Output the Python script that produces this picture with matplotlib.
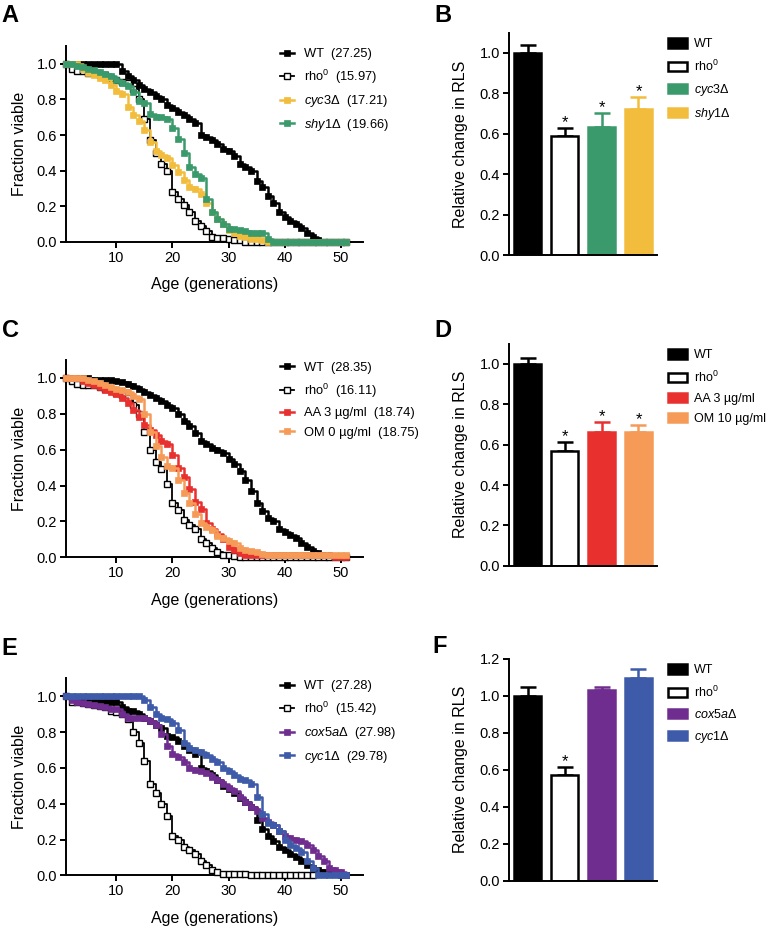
import matplotlib
matplotlib.use("Agg")
import matplotlib.pyplot as plt
import numpy as np
from matplotlib.lines import Line2D
from matplotlib.patches import Patch
from matplotlib.ticker import FormatStrFormatter

plt.rcParams['font.family'] = ['Liberation Sans', 'DejaVu Sans']
plt.rcParams['mathtext.fontset'] = 'custom'
plt.rcParams['mathtext.rm'] = 'Liberation Sans'
plt.rcParams['mathtext.it'] = 'Liberation Sans:italic'
plt.rcParams['axes.linewidth'] = 1.4

# ---- survival data: fraction viable at each age (generations 1, 2, 3, ...) ----
ages = np.arange(1, 52)

a_wt = [1.0]*10 + [0.96, 0.93, 0.91, 0.88, 0.86, 0.84, 0.82, 0.80, 0.77, 0.75, 0.73, 0.71,
                   0.69, 0.67, 0.60, 0.59, 0.57, 0.55, 0.52, 0.51, 0.48, 0.44, 0.42, 0.40,
                   0.34, 0.31, 0.26, 0.22, 0.17, 0.14, 0.12, 0.10, 0.08, 0.05, 0.03, 0.01] + [0.0]*5
a_rho = [1.0, 0.97, 0.96, 0.96, 0.95, 0.95, 0.94, 0.94, 0.92, 0.91, 0.90, 0.89, 0.86, 0.80,
         0.69, 0.57, 0.50, 0.44, 0.40, 0.28, 0.24, 0.21, 0.17, 0.12, 0.09, 0.06, 0.03, 0.02,
         0.02, 0.015, 0.01, 0.01] + [0.0]*19
a_cyc3 = [1.0, 1.0, 1.0, 0.97, 0.95, 0.94, 0.92, 0.91, 0.88, 0.85, 0.83, 0.76, 0.71, 0.68,
          0.63, 0.56, 0.51, 0.49, 0.47, 0.43, 0.39, 0.35, 0.31, 0.30, 0.27, 0.22, 0.17, 0.13,
          0.10, 0.067, 0.05, 0.035, 0.026, 0.015, 0.015, 0.01] + [0.0]*15
a_shy1 = [1.0, 1.0, 0.99, 0.98, 0.97, 0.965, 0.955, 0.945, 0.93, 0.91, 0.89, 0.875, 0.84,
          0.79, 0.78, 0.72, 0.70, 0.70, 0.69, 0.64, 0.58, 0.50, 0.42, 0.38, 0.36, 0.24, 0.17,
          0.13, 0.10, 0.075, 0.07, 0.067, 0.06, 0.052, 0.05, 0.05, 0.015] + [0.0]*14

c_wt = [1.0]*5 + [0.99, 0.99, 0.99, 0.99, 0.985, 0.975, 0.965, 0.955, 0.94, 0.92, 0.905, 0.89,
                  0.87, 0.85, 0.83, 0.80, 0.76, 0.73, 0.69, 0.65, 0.63, 0.61, 0.60, 0.58, 0.55,
                  0.52, 0.48, 0.43, 0.37, 0.30, 0.26, 0.22, 0.20, 0.16, 0.14, 0.125, 0.11, 0.08,
                  0.055, 0.037, 0.025, 0.015, 0.01, 0.005, 0.0, 0.0]
c_rho = [1.0, 0.98, 0.965, 0.96, 0.96, 0.96, 0.95, 0.94, 0.93, 0.915, 0.905, 0.89, 0.85, 0.80,
         0.70, 0.60, 0.53, 0.49, 0.41, 0.30, 0.265, 0.21, 0.18, 0.155, 0.10, 0.08, 0.05, 0.03,
         0.015, 0.01, 0.005] + [0.0]*20
c_aa = [1.0, 1.0, 1.0, 0.98, 0.97, 0.96, 0.95, 0.93, 0.92, 0.91, 0.89, 0.86, 0.82, 0.78, 0.74,
        0.71, 0.68, 0.65, 0.63, 0.57, 0.50, 0.45, 0.38, 0.31, 0.27, 0.19, 0.16, 0.13, 0.10,
        0.06, 0.04, 0.025, 0.015, 0.015, 0.01] + [0.01]*13 + [0.0]*3
c_om = [1.0, 1.0, 1.0, 1.0, 0.99, 0.98, 0.97, 0.96, 0.95, 0.94, 0.93, 0.92, 0.90, 0.88, 0.80,
        0.70, 0.62, 0.56, 0.51, 0.50, 0.43, 0.36, 0.30, 0.24, 0.19, 0.17, 0.15, 0.12, 0.11,
        0.09, 0.08, 0.05, 0.04, 0.035, 0.03, 0.02] + [0.01]*15

e_wt = [1.0, 0.98, 0.97, 0.97, 0.97, 0.97, 0.97, 0.97, 0.97, 0.97, 0.94, 0.92, 0.92, 0.90,
        0.88, 0.86, 0.84, 0.82, 0.78, 0.77, 0.75, 0.72, 0.70, 0.68, 0.60, 0.58, 0.56, 0.53,
        0.50, 0.48, 0.46, 0.43, 0.41, 0.38, 0.31, 0.26, 0.22, 0.19, 0.16, 0.14, 0.12, 0.10,
        0.08, 0.06, 0.04, 0.03, 0.02, 0.01, 0.01, 0.0, 0.0]
e_rho = [1.0, 0.97, 0.965, 0.96, 0.955, 0.95, 0.945, 0.94, 0.92, 0.91, 0.90, 0.87, 0.80, 0.74,
         0.64, 0.51, 0.46, 0.40, 0.33, 0.22, 0.20, 0.16, 0.14, 0.12, 0.08, 0.06, 0.03, 0.02,
         0.01, 0.01, 0.01, 0.01, 0.01] + [0.0]*12
e_cox5a = [1.0, 0.98, 0.965, 0.96, 0.955, 0.95, 0.945, 0.94, 0.93, 0.93, 0.90, 0.88, 0.88,
           0.88, 0.88, 0.86, 0.84, 0.79, 0.72, 0.68, 0.66, 0.63, 0.60, 0.59, 0.58, 0.57, 0.55,
           0.53, 0.51, 0.49, 0.47, 0.44, 0.41, 0.38, 0.36, 0.32, 0.30, 0.28, 0.25, 0.22, 0.21,
           0.20, 0.19, 0.17, 0.14, 0.11, 0.08, 0.04, 0.03, 0.02, 0.0]
e_cyc1 = [1.0]*14 + [0.98, 0.94, 0.90, 0.88, 0.87, 0.85, 0.81, 0.74, 0.71, 0.70, 0.69, 0.67,
                     0.65, 0.63, 0.60, 0.58, 0.56, 0.54, 0.53, 0.51, 0.44, 0.34, 0.29, 0.28,
                     0.25, 0.20, 0.17, 0.15, 0.13, 0.08, 0.04] + [0.0]*6

a_labels = ['WT  (27.25)', 'rho$^0$  (15.97)', '$\\mathit{cyc3\\Delta}$  (17.21)',
            '$\\mathit{shy1\\Delta}$  (19.66)']
c_labels = ['WT  (28.35)', 'rho$^0$  (16.11)', 'AA 3 µg/ml  (18.74)', 'OM 0 µg/ml  (18.75)']
e_labels = ['WT  (27.28)', 'rho$^0$  (15.42)', '$\\mathit{cox5a\\Delta}$  (27.98)',
            '$\\mathit{cyc1\\Delta}$  (29.78)']

# ---- relative RLS bars ----
b_labels = ['WT', 'rho$^0$', '$\\mathit{cyc3\\Delta}$', '$\\mathit{shy}$1Δ']
b_vals = [1.0, 0.59, 0.635, 0.725]
b_errs = [0.04, 0.04, 0.07, 0.058]
b_stars = [False, True, True, True]

d_labels = ['WT', 'rho$^0$', 'AA 3 µg/ml', 'OM 10 µg/ml']
d_vals = [1.0, 0.57, 0.663, 0.663]
d_errs = [0.03, 0.043, 0.05, 0.034]
d_stars = [False, True, True, True]

f_labels = ['WT', 'rho$^0$', '$\\mathit{cox5a\\Delta}$', '$\\mathit{cyc1\\Delta}$']
f_vals = [1.0, 0.57, 1.03, 1.097]
f_errs = [0.045, 0.044, 0.017, 0.045]
f_stars = [False, True, False, False]

GREEN = '#3a9a6b'
YELLOW = '#f2bd3c'
RED = '#e8312f'
ORANGE = '#f59b57'
PURPLE = '#6f2d8f'
BLUE = '#3e5ba9'


def style_axes(ax):
    ax.spines['top'].set_visible(False)
    ax.spines['right'].set_visible(False)
    ax.tick_params(direction='out', length=4.5, width=1.4, labelsize=10.5, pad=2)
    ax.yaxis.set_major_formatter(FormatStrFormatter('%.1f'))


def survival_panel(ax, curves, labels, colors):
    handles = []
    for i, (vals, col) in enumerate(zip(curves, colors)):
        x = ages[:len(vals)]
        if i == 1:
            kw = dict(color='k', lw=1.3, marker='s', ms=5, mfc='white', mec='k', mew=1.0)
        else:
            kw = dict(color=col, lw=1.8, marker='s', ms=5, mfc=col, mec=col, mew=0.5)
        ax.plot(x, vals, drawstyle='steps-post', clip_on=False, zorder=3 + i, **kw)
        handles.append(Line2D([0], [0], **kw))
    ax.set_xlim(1, 54)
    ax.set_ylim(0, 1.1)
    ax.set_xticks([10, 20, 30, 40, 50])
    ax.set_yticks(np.arange(0, 1.01, 0.2))
    style_axes(ax)
    ax.set_xlabel('Age (generations)', fontsize=11.5, labelpad=9)
    ax.set_ylabel('Fraction viable', fontsize=11.5, labelpad=7)
    ax.legend(handles, labels, loc='upper left', bbox_to_anchor=(0.72, 0.99), frameon=False,
              fontsize=9.3, handlelength=1.1, handletextpad=0.8, labelspacing=0.58,
              borderpad=0, borderaxespad=0)


def bar_panel(ax, vals, errs, colors, labels, stars, ytop, yticks):
    x = np.arange(len(vals))
    handles = []
    for i in range(len(vals)):
        if i == 1:
            face, edge, ecol = 'white', 'k', 'k'
        else:
            face, edge, ecol = colors[i], colors[i], colors[i]
        ax.bar(x[i], vals[i], width=0.73, color=face, edgecolor=edge, linewidth=1.8, zorder=2)
        ax.errorbar(x[i], vals[i], yerr=[[0], [errs[i]]], fmt='none', ecolor=ecol,
                    elinewidth=1.8, capsize=6, capthick=1.8, zorder=1)
        if stars[i]:
            ax.text(x[i], vals[i] + errs[i] + 0.004 * ytop / 1.1, '*', ha='center', va='baseline',
                    fontsize=12)
        handles.append(Patch(facecolor=face, edgecolor=edge, linewidth=1.8))
    ax.set_xlim(-0.5, 3.5)
    ax.set_ylim(0, ytop)
    ax.set_xticks([])
    ax.set_yticks(yticks)
    style_axes(ax)
    ax.set_ylabel('Relative change in RLS', fontsize=11.5, labelpad=8)
    ax.legend(handles, labels, loc='upper left', bbox_to_anchor=(1.075, 0.975), frameon=False,
              fontsize=9, handlelength=1.5, handleheight=0.8, handletextpad=0.6,
              labelspacing=0.64, borderpad=0, borderaxespad=0)


fig = plt.figure(figsize=(7.66, 9.26), dpi=100)

axA = fig.add_axes([0.0862, 0.7387, 0.3877, 0.2116])
axB = fig.add_axes([0.6645, 0.7246, 0.1932, 0.2400])
axC = fig.add_axes([0.0862, 0.3982, 0.3877, 0.2131])
axD = fig.add_axes([0.6645, 0.3891, 0.1932, 0.2396])
axE = fig.add_axes([0.0862, 0.0547, 0.3877, 0.2128])
axF = fig.add_axes([0.6645, 0.0489, 0.1932, 0.2397])

survival_panel(axA, [a_wt, a_rho, a_cyc3, a_shy1], a_labels, ['k', 'k', YELLOW, GREEN])
survival_panel(axC, [c_wt, c_rho, c_aa, c_om], c_labels, ['k', 'k', RED, ORANGE])
survival_panel(axE, [e_wt, e_rho, e_cox5a, e_cyc1], e_labels, ['k', 'k', PURPLE, BLUE])

yt = np.arange(0, 1.01, 0.2)
bar_panel(axB, b_vals, b_errs, ['k', 'w', GREEN, YELLOW], b_labels, b_stars, 1.1, yt)
bar_panel(axD, d_vals, d_errs, ['k', 'w', RED, ORANGE], d_labels, d_stars, 1.1, yt)
bar_panel(axF, f_vals, f_errs, ['k', 'w', PURPLE, BLUE], f_labels, f_stars, 1.2,
          np.arange(0, 1.21, 0.2))

for letter, xp, yp in [('A', 0.002, 0.976), ('B', 0.567, 0.976), ('C', 0.002, 0.636),
                       ('D', 0.567, 0.636), ('E', 0.002, 0.293), ('F', 0.565, 0.295)]:
    fig.text(xp, yp, letter, fontsize=17, fontweight='bold', va='baseline', ha='left')

fig.savefig('out.png', dpi=100)
